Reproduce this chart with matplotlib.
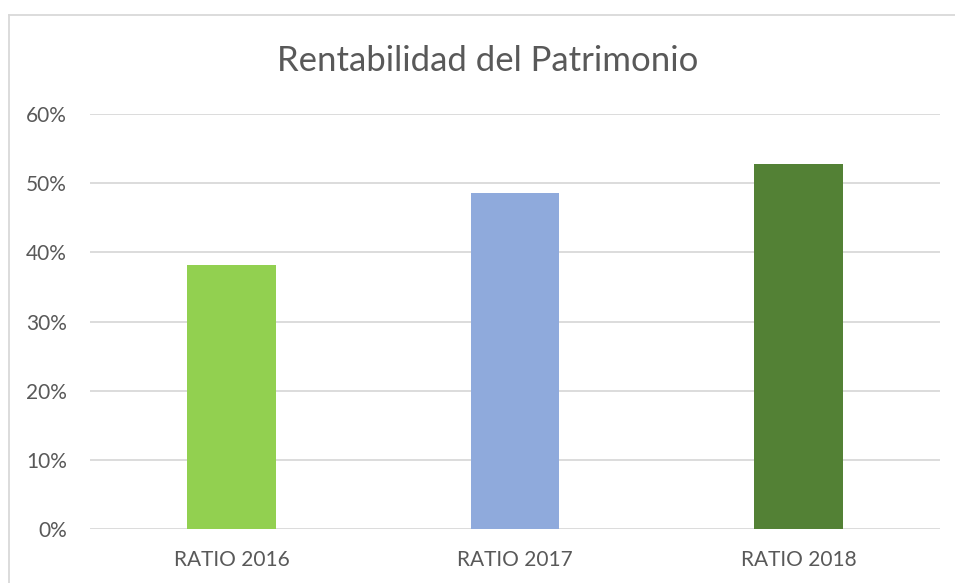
import matplotlib
matplotlib.use("Agg")
import matplotlib.pyplot as plt
from matplotlib.lines import Line2D
from matplotlib.ticker import PercentFormatter

categories = ["RATIO 2016", "RATIO 2017", "RATIO 2018"]
values = [0.382, 0.486, 0.528]
colors = ["#92D050", "#8FAADC", "#538135"]
title = "Rentabilidad del Patrimonio"

plt.rcParams['font.family'] = ['Lato', 'DejaVu Sans']

W, H = 955, 583
fig = plt.figure(figsize=(W/100, H/100), dpi=100)
ax = fig.add_axes([90/W, (H-529)/H, 850/W, 415/H])

x = list(range(len(categories)))
ax.bar(x, values, width=0.314, color=colors, zorder=3)
ax.set_xlim(-0.5, 2.5)
ax.set_ylim(0, 0.6)
ax.set_yticks([0, 0.1, 0.2, 0.3, 0.4, 0.5, 0.6])
ax.yaxis.set_major_formatter(PercentFormatter(1.0, decimals=0))
ax.set_xticks(x)
ax.set_xticklabels(categories)
ax.grid(axis='y', color='#D9D9D9', linewidth=1.3, zorder=0)
for s in ax.spines.values():
    s.set_visible(False)
ax.tick_params(axis='both', length=0, labelsize=15, colors='#595959')
ax.tick_params(axis='y', pad=16.5)
ax.tick_params(axis='x', pad=15)

fig.text(488/W, 1 - 61/H, title, ha='center', va='center', fontsize=25, color='#595959')

# outer chart border (left and top visible)
fig.add_artist(Line2D([9/W, 9/W], [0, 1 - 15/H], transform=fig.transFigure, color='#D9D9D9', linewidth=1.3))
fig.add_artist(Line2D([9/W, 1], [1 - 15/H, 1 - 15/H], transform=fig.transFigure, color='#D9D9D9', linewidth=1.3))

fig.savefig("out.png", dpi=100)
